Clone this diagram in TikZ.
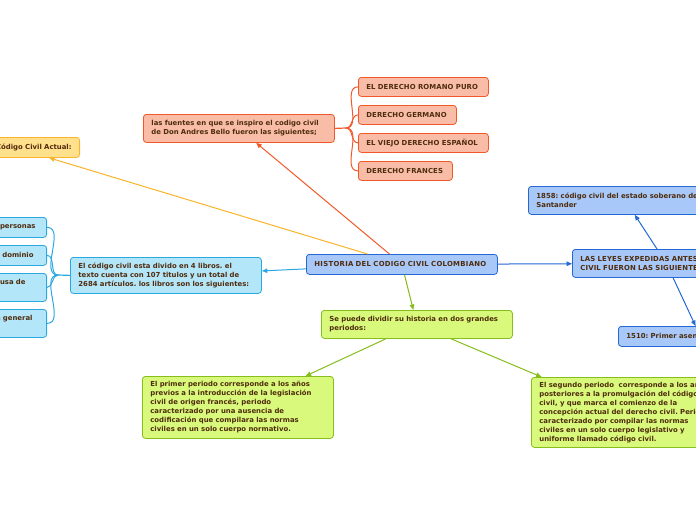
\documentclass[tikz,border=0pt]{standalone}
\usepackage{fontspec}
\setmainfont{DejaVu Sans}
\usetikzlibrary{arrows.meta}
\definecolor{txt}{HTML}{4E2C0C}
\definecolor{blueF}{HTML}{A8C8F9}
\definecolor{blueD}{HTML}{2468D4}
\definecolor{cyanF}{HTML}{B4E6FA}
\definecolor{cyanD}{HTML}{2AA8E2}
\definecolor{orF}{HTML}{F9BDA7}
\definecolor{orD}{HTML}{F2592A}
\definecolor{yeF}{HTML}{FFE08C}
\definecolor{yeD}{HTML}{F9B42B}
\definecolor{grF}{HTML}{D9F97D}
\definecolor{grD}{HTML}{86BE1C}
\tikzset{
  box/.style={rounded corners=3pt, line width=0.8pt, align=left, inner xsep=8pt, inner ysep=2pt,
    font=\fontsize{6.9}{9}\selectfont\bfseries\frenchspacing, text=txt},
  bluebox/.style={box, draw=blueD, fill=blueF},
  cyanbox/.style={box, draw=cyanD, fill=cyanF},
  orbox/.style={box, draw=orD, fill=orF},
  yebox/.style={box, draw=yeD, fill=yeF},
  grbox/.style={box, draw=grD, fill=grF},
  tip/.style={-{Triangle[length=5.5pt,width=4.5pt]}},
  conn/.style={line width=1pt},
}
\begin{document}
\begin{tikzpicture}[x=1pt,y=-1pt]
\useasboundingbox (0,0) rectangle (696,520);
\clip (0,0) rectangle (696,520);
\fill[white] (0,0) rectangle (696,520);
% nodes
\node[bluebox, anchor=north west, text width=175pt, minimum height=20pt] (central) at (306,254) {\addfontfeature{LetterSpace=4}HISTORIA DEL CODIGO CIVIL COLOMBIANO};
\node[yebox, anchor=north east, align=right, text width=114pt, minimum height=20pt] (actual) at (80,137) {Código Civil Actual:};
\node[orbox, anchor=north west, text width=175pt, minimum height=28pt] (fuentes) at (143,114) {las fuentes en que se inspiro el codigo civil\\de Don Andres Bello fueron las siguientes;};
\node[orbox, anchor=north west, text width=114pt, minimum height=19pt] (romano) at (358,77) {\addfontfeature{LetterSpace=1.5}EL DERECHO ROMANO PURO};
\node[orbox, anchor=north west, text width=82pt, minimum height=19pt] (germano) at (358,105) {\addfontfeature{LetterSpace=1.5}DERECHO GERMANO};
\node[orbox, anchor=north west, text width=114pt, minimum height=19pt] (espanol) at (358,133) {\addfontfeature{LetterSpace=1.5}EL VIEJO DERECHO ESPAÑOL};
\node[orbox, anchor=north west, text width=78pt, minimum height=19pt] (frances) at (358,161) {\addfontfeature{LetterSpace=1.5}DERECHO FRANCES};
\node[bluebox, anchor=north west, text width=172pt, minimum height=28pt] (leyes) at (572,249) {\addfontfeature{LetterSpace=2}LAS LEYES EXPEDIDAS ANTES\\CIVIL FUERON LAS SIGUIENTES:};
\node[bluebox, anchor=north west, text width=178pt, minimum height=28pt] (s1858) at (528,186) {1858: código civil del estado soberano de\\Santander};
\node[bluebox, anchor=north west, text width=148pt, minimum height=20pt] (s1510) at (618,326) {1510: Primer asen};
\node[cyanbox, anchor=north west, text width=175pt, minimum height=36pt] (libros) at (70,257) {El código civil esta divido en 4 libros. el\\texto cuenta con 107 titulos y un total de\\2684 artículos. los libros son los siguientes:};
\node[cyanbox, anchor=north east, align=right, text width=131pt, minimum height=20pt] (l1) at (47,217) {personas\hspace*{3pt}};
\node[cyanbox, anchor=north east, align=right, text width=131pt, minimum height=20pt] (l2) at (47,245) {dominio\hspace*{5pt}};
\node[cyanbox, anchor=north east, align=right, text width=131pt, minimum height=28pt] (l3) at (47,273) {causa de\hspace*{13pt}\mbox{}\\\strut};
\node[cyanbox, anchor=north east, align=right, text width=131pt, minimum height=28pt] (l4) at (47,309) {en general\hspace*{6pt}\mbox{}\\\strut};
\node[grbox, anchor=north west, text width=175pt, minimum height=28pt] (periodos) at (321,310) {Se puede dividir su historia en dos grandes\\periodos:};
\node[grbox, anchor=north west, text width=175pt, minimum height=62pt] (primer) at (142,376) {El primer periodo corresponde a los años\\previos a la introducción de la legislación\\civil de origen francés, periodo\\caracterizado por una ausencia de\\codificación que compilara las normas\\civiles en un solo cuerpo normativo.};
\node[grbox, anchor=north west, text width=172pt, minimum height=70pt] (segundo) at (531,377) {\mbox{El segundo periodo\ \ corresponde a los años}\\\mbox{posteriores a la promulgación del código}\\\mbox{civil, y que marca el comienzo de la}\\\mbox{concepción actual del derecho civil. Periodo}\\\mbox{caracterizado por compilar las normas}\\\mbox{civiles en un solo cuerpo legislativo y}\\\mbox{uniforme llamado código civil.}};
% connectors
\draw[conn, tip, yeD] (central) -- (actual);
\draw[conn, tip, orD] (central) -- (fuentes);
\draw[conn, tip, blueD] (central) -- (leyes);
\draw[conn, tip, blueD] (leyes) -- (s1858);
\draw[conn, tip, blueD] (leyes) -- (s1510);
\draw[conn, tip, cyanD] (central) -- (libros);
\draw[conn, tip, grD] (central) -- (periodos);
\draw[conn, tip, grD] (periodos) -- (primer);
\draw[conn, tip, grD] (periodos) -- (segundo);
% branches
\coordinate (ob) at (346,128);
\draw[conn, orD, line width=1.2pt] (fuentes.east) -- (ob);
\foreach \c in {romano,germano,espanol,frances}
  \draw[conn, orD] (ob) to[out=0,in=180] (\c.west);
\coordinate (cb) at (58,275);
\draw[conn, cyanD, line width=1.2pt] (libros.west) -- (cb);
\foreach \c in {l1,l2,l3,l4}
  \draw[conn, cyanD] (cb) to[out=180,in=0] (\c.east);
\end{tikzpicture}
\end{document}
